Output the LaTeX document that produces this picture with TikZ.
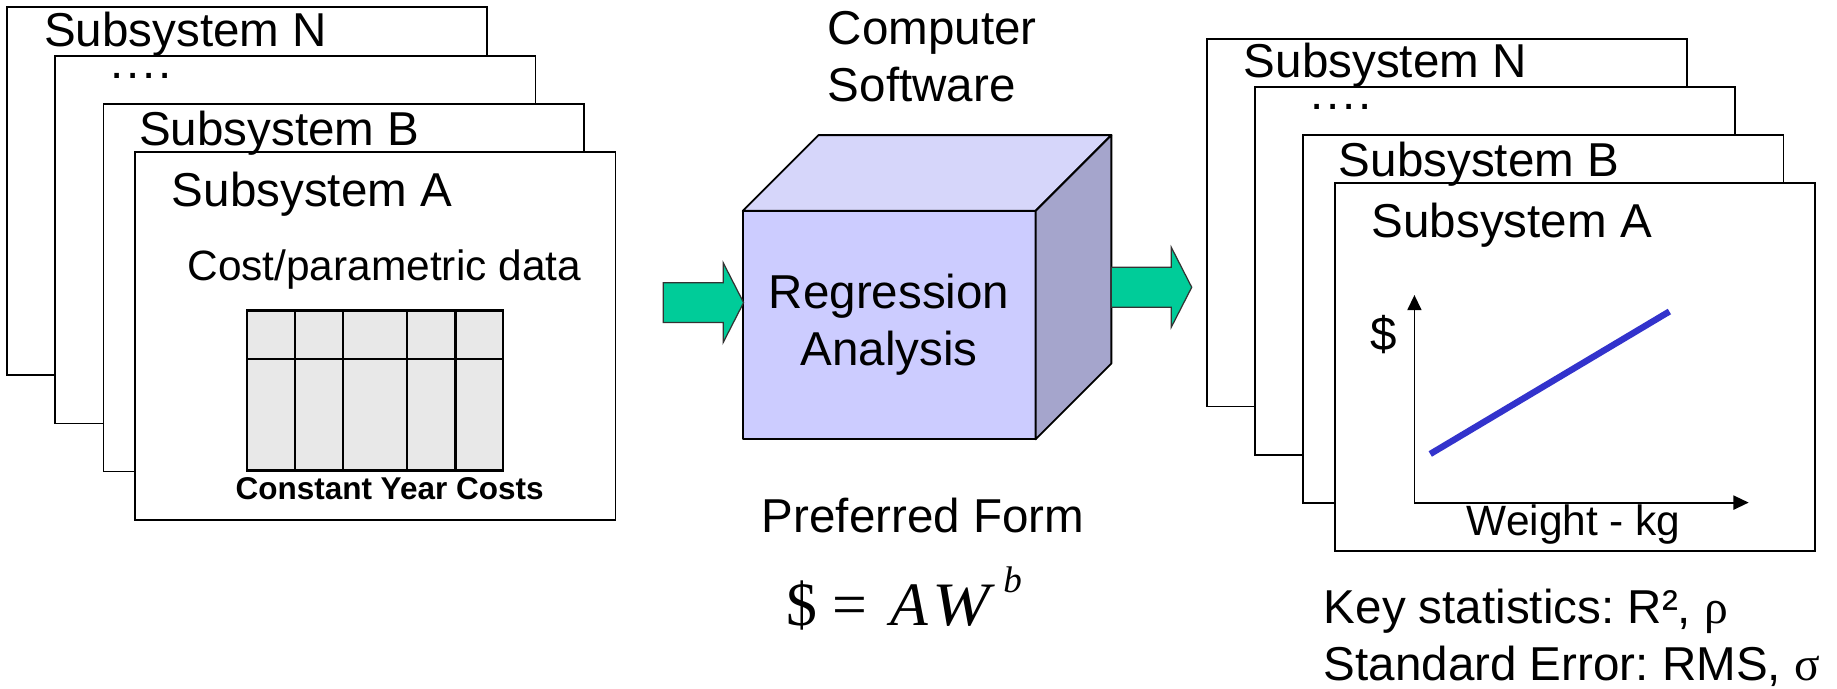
\documentclass[tikz,border=0pt]{standalone}
\usepackage{fontspec}
\usepackage{graphicx}
\setmainfont{Liberation Sans}
\newfontfamily\timesfont{Liberation Serif}
\usetikzlibrary{arrows.meta,calc}
\frenchspacing

\definecolor{cubefront}{RGB}{204,204,255}
\definecolor{cubetop}{RGB}{214,214,250}
\definecolor{cubeside}{RGB}{165,165,204}
\definecolor{flowgreen}{RGB}{0,204,153}
\definecolor{fitblue}{RGB}{51,51,204}
\definecolor{cellgray}{RGB}{232,232,232}

\newcommand\bigsize{\fontsize{23.1pt}{27.6pt}\selectfont}
\newcommand\midsize{\fontsize{20.6pt}{24pt}\selectfont}
\newcommand\tablecaption{\fontsize{15.3pt}{18pt}\selectfont\bfseries}
\newcommand\formulasize{\fontsize{30pt}{31pt}\selectfont\timesfont}
\newcommand\expsize{\fontsize{18pt}{19pt}\selectfont\timesfont\itshape}
\newcommand\sheetdots{.\kern1.3pt.\kern1.3pt.\kern1.3pt.}

\begin{document}
\begin{tikzpicture}[x=0.02cm,y=-0.02cm,
  sheet/.style={draw=black, fill=white, line width=0.9pt,
    minimum width=8.2cm, minimum height=6.28cm,
    anchor=north west, inner sep=0pt, outer sep=0pt},
  txt/.style={anchor=base west, inner sep=0pt, outer sep=0pt, font=\bigsize},
  midtxt/.style={txt, font=\midsize},
  formula/.style={anchor=base west, inner sep=0pt, outer sep=0pt, font=\formulasize},
  gridline/.style={draw=black, line width=1.1pt},
  face/.style={draw=black, line width=0.9pt, line join=round},
  blockarrow/.style={draw=black!80, line width=0.6pt, fill=flowgreen, line join=miter},
  axis/.style={draw=black, line width=0.9pt, -{Triangle[length=0.26cm,width=0.24cm]}},
  fitline/.style={draw=fitblue, line width=3.1pt}
]
\useasboundingbox (0,0) rectangle (1568,588);

% ---------- input data sheets ----------
\node[sheet] (lN) at (6,6.3) {};
\node[sheet] (lD) at (47.2,47.6) {};
\node[sheet] (lB) at (88.4,88.5) {};
\node[sheet] (lA) at (115.4,129.8) {};

\node[txt] (lNt) at (37.8,39.8) {Subsystem N};
\node[txt] (lDt) at (94.5,67) {\sheetdots};
\node[txt] (lBt) at (118.8,124) {Subsystem B};
\node[txt] (lAt) at (146.8,176) {Subsystem A};
\node[midtxt] (costs) at (160,239) {Cost/parametric data};

% data table
\node[gridline, fill=cellgray, anchor=north west, inner sep=0pt, outer sep=0pt,
  minimum width=4.372cm, minimum height=2.734cm] (tbl) at (210.9,265) {};
\foreach \cx in {252,292.8,347.5,388.7}
  \draw[gridline] (\cx,265) -- (\cx,401.7);
\draw[gridline] (tbl.west |- 0,306.5) -- (tbl.east |- 0,306.5);
\node[anchor=base west, inner sep=0pt, font=\tablecaption] (tblcap) at (200.7,426) {Constant Year Costs};

% ---------- regression block ----------
\node[anchor=north west, inner sep=0pt, outer sep=0pt, font=\bigsize, align=left]
  (sw) at (706.7,9.7) {Computer\\Software};

\node[face, fill=cubefront, anchor=north west, inner sep=0pt, outer sep=0pt,
  minimum width=5cm, minimum height=3.9cm, font=\bigsize, align=center]
  (cube) at (634,180) {Regression\\Analysis};
\draw[face, fill=cubetop] (cube.north west) -- ++(64.7,-64.7)
  -- ($(cube.north east)+(64.7,-64.7)$) -- (cube.north east) -- cycle;
\draw[face, fill=cubeside] (cube.north east) -- ++(64.7,-64.7)
  -- ($(cube.south east)+(64.7,-64.7)$) -- (cube.south east) -- cycle;

% flow arrows
\coordinate (inTip) at (634.7,258.3);
\coordinate (outTip) at (1017.2,245.2);
\foreach \tip in {inTip,outTip}
  \draw[blockarrow] (\tip) -- ++(-17.4,-34) -- ++(0,17) -- ++(-51.2,0)
    -- ++(0,34) -- ++(51.2,0) -- ++(0,17) -- cycle;

\node[txt] (pref) at (650.4,454.9) {Preferred Form};
\node[formula] (fDollar) at (671,533.5) {\$};
\node[formula] (fEq) at (710.5,533.5) {=};
\node[formula, font=\formulasize\itshape] (fAW) at (760,533.5)
  {A\kern2pt\scalebox{1.12}[1]{W}};
\node[anchor=base west, inner sep=0pt, font=\expsize] (fExp) at (856,506) {b};

% ---------- output sheets ----------
\begin{scope}[shift={(1024,26.7)}]
\node[sheet] (rN) at (6,6.3) {};
\node[sheet] (rD) at (47.2,47.6) {};
\node[sheet] (rB) at (88.4,88.5) {};
\node[sheet] (rA) at (115.4,129.8) {};
\node[txt] (rNt) at (37.8,39.8) {Subsystem N};
\node[txt] (rDt) at (94.5,67) {\sheetdots};
\node[txt] (rBt) at (118.8,124) {Subsystem B};
\node[txt] (rAt) at (146.8,176) {Subsystem A};
\end{scope}

% cost vs weight plot
\coordinate (origin) at (1207.3,429);
\coordinate (yTop) at (1207.3,251.8);
\coordinate (xEnd) at (1492.6,429);
\draw[axis] (origin) -- (yTop);
\draw[axis] (origin) -- (xEnd);
\coordinate (fitA) at (1220.8,387.5);
\coordinate (fitB) at (1424.9,265.9);
\draw[fitline] (fitA) -- (fitB);
\node[txt] (yLbl) at (1170,298.8) {\$};
\node[midtxt] (xLbl) at (1252,457.4) {Weight - kg};

\node[anchor=north west, inner sep=0pt, outer sep=0pt, font=\bigsize, align=left]
  (stats) at (1130,503) {Key statistics: R², {\timesfont ρ}\\Standard Error: RMS, {\timesfont σ}};
\end{tikzpicture}
\end{document}
